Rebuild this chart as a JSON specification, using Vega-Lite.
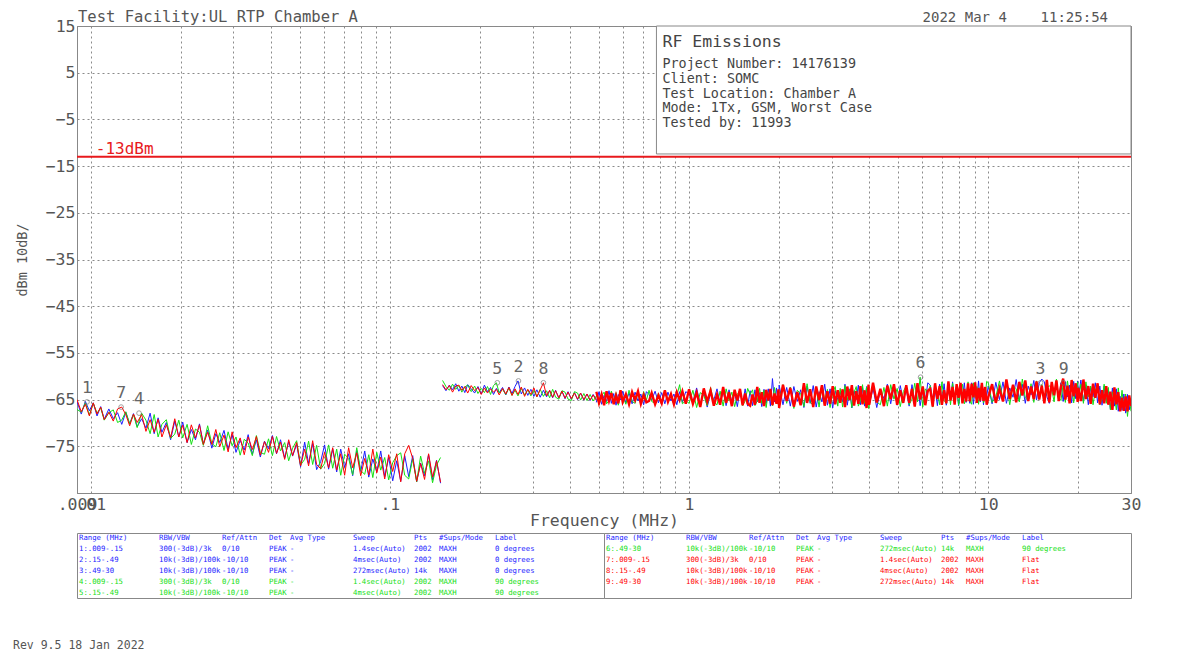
{
"$schema":"https://vega.github.io/schema/vega-lite/v6.json",
"background":"white",
"autosize":{"type":"pad"},
"padding":{"left":13,"top":9,"right":5,"bottom":5},
"config":{"view":{"stroke":"#888","strokeWidth":1}},
"title":{"text":"Rev 9.5 18 Jan 2022","orient":"bottom","anchor":"start","frame":"group","dx":-64,"offset":41,"font":"DejaVu Sans Mono","fontSize":11.5,"fontWeight":"normal","color":"#555"},
"datasets":{
"trace":[
{"s":1,"f":0.0090,"b":-65.4,"g":-67.1,"r":-65.0},
{"s":1,"f":0.0093,"b":-68.1,"g":-67.7,"r":-67.6},
{"s":1,"f":0.0096,"b":-65.4,"g":-65.7,"r":-66.0},
{"s":1,"f":0.0099,"b":-67.4,"g":-68.3,"r":-68.5},
{"s":1,"f":0.0102,"b":-65.7,"g":-65.8,"r":-65.7},
{"s":1,"f":0.0105,"b":-68.5,"g":-67.9,"r":-68.1},
{"s":1,"f":0.0108,"b":-66.5,"g":-66.8,"r":-66.6},
{"s":1,"f":0.0111,"b":-69.2,"g":-69.4,"r":-69.3},
{"s":1,"f":0.0115,"b":-67.0,"g":-67.8,"r":-67.7},
{"s":1,"f":0.0119,"b":-69.1,"g":-67.2,"r":-69.6},
{"s":1,"f":0.0123,"b":-67.8,"g":-69.9,"r":-67.0},
{"s":1,"f":0.0127,"b":-70.3,"g":-69.4,"r":-66.6},
{"s":1,"f":0.0131,"b":-67.7,"g":-67.6,"r":-68.2},
{"s":1,"f":0.0135,"b":-70.2,"g":-70.2,"r":-70.6},
{"s":1,"f":0.0139,"b":-68.0,"g":-68.2,"r":-68.1},
{"s":1,"f":0.0143,"b":-70.8,"g":-71.0,"r":-69.9},
{"s":1,"f":0.0148,"b":-69.1,"g":-67.9,"r":-68.2},
{"s":1,"f":0.0153,"b":-71.1,"g":-69.4,"r":-71.8},
{"s":1,"f":0.0158,"b":-67.9,"g":-72.3,"r":-69.3},
{"s":1,"f":0.0163,"b":-72.3,"g":-68.2,"r":-72.0},
{"s":1,"f":0.0168,"b":-68.9,"g":-73.0,"r":-69.2},
{"s":1,"f":0.0173,"b":-72.0,"g":-70.3,"r":-73.0},
{"s":1,"f":0.0179,"b":-69.9,"g":-69.3,"r":-70.4},
{"s":1,"f":0.0185,"b":-73.6,"g":-73.3,"r":-73.1},
{"s":1,"f":0.0191,"b":-69.6,"g":-72.4,"r":-69.1},
{"s":1,"f":0.0197,"b":-73.0,"g":-69.4,"r":-73.0},
{"s":1,"f":0.0203,"b":-69.8,"g":-73.2,"r":-70.5},
{"s":1,"f":0.0210,"b":-74.2,"g":-70.3,"r":-74.2},
{"s":1,"f":0.0217,"b":-71.4,"g":-74.6,"r":-70.4},
{"s":1,"f":0.0224,"b":-73.6,"g":-71.3,"r":-73.2},
{"s":1,"f":0.0231,"b":-70.2,"g":-72.0,"r":-70.4},
{"s":1,"f":0.0238,"b":-74.5,"g":-74.8,"r":-74.6},
{"s":1,"f":0.0246,"b":-71.5,"g":-70.6,"r":-72.0},
{"s":1,"f":0.0254,"b":-75.4,"g":-74.4,"r":-74.6},
{"s":1,"f":0.0262,"b":-72.3,"g":-75.1,"r":-71.4},
{"s":1,"f":0.0270,"b":-74.2,"g":-72.1,"r":-75.1},
{"s":1,"f":0.0279,"b":-71.6,"g":-75.9,"r":-72.6},
{"s":1,"f":0.0288,"b":-75.6,"g":-71.9,"r":-76.2},
{"s":1,"f":0.0297,"b":-72.5,"g":-74.9,"r":-71.9},
{"s":1,"f":0.0306,"b":-76.3,"g":-73.0,"r":-75.3},
{"s":1,"f":0.0316,"b":-73.7,"g":-76.9,"r":-73.2},
{"s":1,"f":0.0326,"b":-75.8,"g":-73.5,"r":-76.8},
{"s":1,"f":0.0336,"b":-72.5,"g":-74.3,"r":-73.0},
{"s":1,"f":0.0347,"b":-76.7,"g":-77.0,"r":-75.7},
{"s":1,"f":0.0358,"b":-73.6,"g":-72.7,"r":-72.9},
{"s":1,"f":0.0369,"b":-77.3,"g":-76.3,"r":-76.9},
{"s":1,"f":0.0381,"b":-73.9,"g":-76.7,"r":-74.0},
{"s":1,"f":0.0393,"b":-75.5,"g":-73.4,"r":-76.3},
{"s":1,"f":0.0405,"b":-72.7,"g":-77.0,"r":-72.9},
{"s":1,"f":0.0418,"b":-76.6,"g":-72.9,"r":-76.5},
{"s":1,"f":0.0431,"b":-73.6,"g":-76.0,"r":-74.1},
{"s":1,"f":0.0445,"b":-77.5,"g":-74.2,"r":-77.8},
{"s":1,"f":0.0459,"b":-74.0,"g":-78.1,"r":-73.6},
{"s":1,"f":0.0473,"b":-77.1,"g":-75.4,"r":-77.0},
{"s":1,"f":0.0488,"b":-74.6,"g":-73.8,"r":-74.2},
{"s":1,"f":0.0503,"b":-79.4,"g":-79.0,"r":-79.2},
{"s":1,"f":0.0519,"b":-74.1,"g":-77.8,"r":-75.6},
{"s":1,"f":0.0535,"b":-78.7,"g":-73.9,"r":-79.2},
{"s":1,"f":0.0552,"b":-74.4,"g":-78.9,"r":-73.8},
{"s":1,"f":0.0569,"b":-80.0,"g":-74.8,"r":-78.9},
{"s":1,"f":0.0587,"b":-78.3,"g":-79.9,"r":-79.8},
{"s":1,"f":0.0605,"b":-74.7,"g":-78.7,"r":-76.3},
{"s":1,"f":0.0624,"b":-79.9,"g":-74.7,"r":-79.6},
{"s":1,"f":0.0644,"b":-75.6,"g":-79.7,"r":-75.3},
{"s":1,"f":0.0664,"b":-80.5,"g":-75.6,"r":-80.1},
{"s":1,"f":0.0685,"b":-75.6,"g":-81.2,"r":-76.6},
{"s":1,"f":0.0706,"b":-79.5,"g":-76.7,"r":-81.2},
{"s":1,"f":0.0728,"b":-76.6,"g":-77.6,"r":-75.3},
{"s":1,"f":0.0751,"b":-81.3,"g":-81.1,"r":-79.6},
{"s":1,"f":0.0775,"b":-75.9,"g":-75.3,"r":-76.4},
{"s":1,"f":0.0799,"b":-80.4,"g":-80.2,"r":-81.3},
{"s":1,"f":0.0824,"b":-76.0,"g":-81.0,"r":-77.6},
{"s":1,"f":0.0850,"b":-81.6,"g":-76.8,"r":-81.1},
{"s":1,"f":0.0877,"b":-77.7,"g":-81.7,"r":-75.6},
{"s":1,"f":0.0904,"b":-80.5,"g":-76.3,"r":-80.7},
{"s":1,"f":0.0932,"b":-76.0,"g":-80.1,"r":-77.3},
{"s":1,"f":0.0961,"b":-81.5,"g":-77.4,"r":-82.0},
{"s":1,"f":0.0991,"b":-77.4,"g":-82.2,"r":-76.8},
{"s":1,"f":0.1022,"b":-82.4,"g":-78.5,"r":-80.4},
{"s":1,"f":0.1054,"b":-78.1,"g":-77.0,"r":-76.6},
{"s":1,"f":0.1087,"b":-82.5,"g":-76.4,"r":-82.6},
{"s":1,"f":0.1121,"b":-77.0,"g":-81.2,"r":-76.6},
{"s":1,"f":0.1156,"b":-81.5,"g":-82.0,"r":-74.8},
{"s":1,"f":0.1192,"b":-77.0,"g":-77.7,"r":-77.6},
{"s":1,"f":0.1229,"b":-82.6,"g":-82.6,"r":-82.5},
{"s":1,"f":0.1267,"b":-78.6,"g":-77.1,"r":-78.7},
{"s":1,"f":0.1306,"b":-81.3,"g":-80.8,"r":-82.1},
{"s":1,"f":0.1347,"b":-76.8,"g":-78.1,"r":-76.6},
{"s":1,"f":0.1389,"b":-82.2,"g":-82.8,"r":-81.6},
{"s":1,"f":0.1432,"b":-78.0,"g":-79.0,"r":-78.1},
{"s":1,"f":0.1477,"b":-82.9,"g":-77.4,"r":-82.7},
{"s":2,"f":0.150,"b":-62.0,"g":-60.9,"r":-61.8},
{"s":2,"f":0.154,"b":-63.1,"g":-62.2,"r":-62.9},
{"s":2,"f":0.158,"b":-61.9,"g":-63.0,"r":-62.0},
{"s":2,"f":0.162,"b":-62.9,"g":-61.7,"r":-63.4},
{"s":2,"f":0.166,"b":-61.6,"g":-62.8,"r":-62.1},
{"s":2,"f":0.170,"b":-63.2,"g":-62.0,"r":-61.9},
{"s":2,"f":0.174,"b":-62.1,"g":-63.4,"r":-63.0},
{"s":2,"f":0.178,"b":-63.5,"g":-62.3,"r":-62.2},
{"s":2,"f":0.182,"b":-61.8,"g":-61.9,"r":-63.6},
{"s":2,"f":0.187,"b":-62.7,"g":-63.3,"r":-62.0},
{"s":2,"f":0.192,"b":-63.6,"g":-62.1,"r":-63.1},
{"s":2,"f":0.197,"b":-62.2,"g":-63.7,"r":-62.4},
{"s":2,"f":0.202,"b":-63.8,"g":-62.6,"r":-63.9},
{"s":2,"f":0.207,"b":-61.9,"g":-63.5,"r":-62.5},
{"s":2,"f":0.212,"b":-63.3,"g":-62.2,"r":-63.6},
{"s":2,"f":0.217,"b":-62.4,"g":-63.9,"r":-62.7},
{"s":2,"f":0.222,"b":-63.9,"g":-62.0,"r":-63.4},
{"s":2,"f":0.227,"b":-62.6,"g":-61.4,"r":-62.8},
{"s":2,"f":0.232,"b":-63.5,"g":-63.6,"r":-64.0},
{"s":2,"f":0.238,"b":-62.4,"g":-62.8,"r":-62.6},
{"s":2,"f":0.244,"b":-64.0,"g":-63.9,"r":-63.8},
{"s":2,"f":0.250,"b":-62.3,"g":-62.5,"r":-62.4},
{"s":2,"f":0.256,"b":-63.7,"g":-64.1,"r":-64.1},
{"s":2,"f":0.262,"b":-62.2,"g":-63.0,"r":-62.7},
{"s":2,"f":0.268,"b":-61.0,"g":-64.2,"r":-63.9},
{"s":2,"f":0.275,"b":-63.8,"g":-62.6,"r":-62.3},
{"s":2,"f":0.282,"b":-62.5,"g":-64.0,"r":-64.3},
{"s":2,"f":0.289,"b":-64.1,"g":-62.9,"r":-62.8},
{"s":2,"f":0.296,"b":-62.8,"g":-64.2,"r":-63.9},
{"s":2,"f":0.303,"b":-64.3,"g":-63.0,"r":-62.5},
{"s":2,"f":0.310,"b":-62.9,"g":-64.4,"r":-64.4},
{"s":2,"f":0.318,"b":-64.5,"g":-62.8,"r":-62.9},
{"s":2,"f":0.326,"b":-63.0,"g":-64.3,"r":-61.4},
{"s":2,"f":0.334,"b":-64.4,"g":-63.1,"r":-64.2},
{"s":2,"f":0.342,"b":-63.1,"g":-64.6,"r":-63.0},
{"s":2,"f":0.350,"b":-64.6,"g":-62.8,"r":-64.5},
{"s":2,"f":0.358,"b":-63.0,"g":-64.5,"r":-63.1},
{"s":2,"f":0.367,"b":-64.7,"g":-64.9,"r":-64.6},
{"s":2,"f":0.376,"b":-63.2,"g":-63.1,"r":-63.2},
{"s":2,"f":0.385,"b":-64.8,"g":-63.4,"r":-64.7},
{"s":2,"f":0.394,"b":-63.3,"g":-64.9,"r":-63.4},
{"s":2,"f":0.404,"b":-64.9,"g":-65.2,"r":-64.8},
{"s":2,"f":0.414,"b":-63.5,"g":-63.3,"r":-63.6},
{"s":2,"f":0.424,"b":-65.0,"g":-63.6,"r":-64.9},
{"s":2,"f":0.434,"b":-63.6,"g":-65.1,"r":-63.6},
{"s":2,"f":0.445,"b":-65.1,"g":-63.7,"r":-65.0},
{"s":2,"f":0.456,"b":-63.8,"g":-65.2,"r":-63.8},
{"s":2,"f":0.467,"b":-65.2,"g":-63.9,"r":-65.1},
{"s":2,"f":0.478,"b":-63.9,"g":-65.3,"r":-64.0},
{"s":2,"f":0.490,"b":-65.0,"g":-64.2,"r":-65.2},
{"s":3,"f":0.49,"b":-65.6,"g":-63.8,"r":-63.3},
{"s":3,"f":0.50,"b":-63.3,"g":-66.1,"r":-65.7},
{"s":3,"f":0.51,"b":-66.0,"g":-64.2,"r":-63.9},
{"s":3,"f":0.52,"b":-64.1,"g":-63.4,"r":-66.2},
{"s":3,"f":0.53,"b":-65.4,"g":-65.9,"r":-63.2},
{"s":3,"f":0.54,"b":-63.1,"g":-65.2,"r":-65.3},
{"s":3,"f":0.55,"b":-65.8,"g":-63.2,"r":-63.6},
{"s":3,"f":0.56,"b":-63.7,"g":-65.6,"r":-66.0},
{"s":3,"f":0.57,"b":-66.2,"g":-63.5,"r":-64.1},
{"s":3,"f":0.58,"b":-63.9,"g":-66.2,"r":-65.8},
{"s":3,"f":0.59,"b":-65.1,"g":-63.9,"r":-63.0},
{"s":3,"f":0.60,"b":-63.2,"g":-64.3,"r":-65.5},
{"s":3,"f":0.615,"b":-65.7,"g":-66.0,"r":-63.8},
{"s":3,"f":0.63,"b":-63.5,"g":-63.0,"r":-66.0},
{"s":3,"f":0.645,"b":-65.9,"g":-65.4,"r":-63.4},
{"s":3,"f":0.66,"b":-63.4,"g":-65.8,"r":-65.1},
{"s":3,"f":0.675,"b":-65.3,"g":-63.6,"r":-63.2},
{"s":3,"f":0.69,"b":-63.8,"g":-66.0,"r":-65.9},
{"s":3,"f":0.705,"b":-66.1,"g":-63.3,"r":-64.0},
{"s":3,"f":0.72,"b":-63.3,"g":-65.1,"r":-65.6},
{"s":3,"f":0.735,"b":-63.9,"g":-63.0,"r":-65.3},
{"s":3,"f":0.75,"b":-65.1,"g":-65.4,"r":-63.6},
{"s":3,"f":0.77,"b":-63.2,"g":-65.8,"r":-66.0},
{"s":3,"f":0.79,"b":-65.7,"g":-63.6,"r":-64.1},
{"s":3,"f":0.81,"b":-63.5,"g":-66.0,"r":-65.8},
{"s":3,"f":0.83,"b":-65.9,"g":-63.3,"r":-63.0},
{"s":3,"f":0.85,"b":-63.4,"g":-65.1,"r":-65.5},
{"s":3,"f":0.87,"b":-65.3,"g":-63.8,"r":-63.8},
{"s":3,"f":0.89,"b":-63.8,"g":-66.1,"r":-66.0},
{"s":3,"f":0.91,"b":-66.1,"g":-64.2,"r":-63.4},
{"s":3,"f":0.93,"b":-63.3,"g":-61.8,"r":-65.1},
{"s":3,"f":0.95,"b":-65.6,"g":-65.9,"r":-63.2},
{"s":3,"f":0.975,"b":-63.3,"g":-65.2,"r":-65.9},
{"s":3,"f":1.00,"b":-63.8,"g":-65.8,"r":-62.8},
{"s":3,"f":1.03,"b":-65.5,"g":-63.0,"r":-65.9},
{"s":3,"f":1.06,"b":-62.5,"g":-66.7,"r":-63.5},
{"s":3,"f":1.09,"b":-66.1,"g":-63.5,"r":-66.6},
{"s":3,"f":1.12,"b":-63.3,"g":-64.1,"r":-62.6},
{"s":3,"f":1.15,"b":-66.6,"g":-66.3,"r":-65.4},
{"s":3,"f":1.18,"b":-63.6,"g":-62.4,"r":-63.1},
{"s":3,"f":1.21,"b":-65.1,"g":-65.6,"r":-66.3},
{"s":3,"f":1.24,"b":-62.7,"g":-66.1,"r":-63.9},
{"s":3,"f":1.27,"b":-66.0,"g":-63.2,"r":-66.1},
{"s":3,"f":1.30,"b":-63.1,"g":-66.4,"r":-62.3},
{"s":3,"f":1.33,"b":-66.3,"g":-62.7,"r":-65.7},
{"s":3,"f":1.36,"b":-62.9,"g":-65.2,"r":-63.4},
{"s":3,"f":1.39,"b":-65.5,"g":-63.4,"r":-66.4},
{"s":3,"f":1.42,"b":-63.5,"g":-66.5,"r":-62.9},
{"s":3,"f":1.45,"b":-66.5,"g":-63.9,"r":-65.2},
{"s":3,"f":1.48,"b":-62.8,"g":-62.9,"r":-62.7},
{"s":3,"f":1.51,"b":-65.8,"g":-66.3,"r":-66.2},
{"s":3,"f":1.54,"b":-62.7,"g":-65.3,"r":-63.7},
{"s":3,"f":1.57,"b":-66.4,"g":-62.6,"r":-65.9},
{"s":3,"f":1.60,"b":-63.1,"g":-63.9,"r":-66.3},
{"s":3,"f":1.63,"b":-66.3,"g":-62.9,"r":-63.9},
{"s":3,"f":1.66,"b":-62.9,"g":-66.3,"r":-66.1},
{"s":3,"f":1.69,"b":-65.5,"g":-65.3,"r":-62.3},
{"s":3,"f":1.72,"b":-63.5,"g":-62.6,"r":-65.7},
{"s":3,"f":1.75,"b":-66.5,"g":-65.8,"r":-63.4},
{"s":3,"f":1.78,"b":-62.8,"g":-63.0,"r":-66.4},
{"s":3,"f":1.81,"b":-65.8,"g":-66.7,"r":-62.9},
{"s":3,"f":1.84,"b":-62.7,"g":-63.5,"r":-65.2},
{"s":3,"f":1.87,"b":-66.4,"g":-64.1,"r":-62.7},
{"s":3,"f":1.90,"b":-60.5,"g":-66.3,"r":-66.2},
{"s":3,"f":1.93,"b":-65.5,"g":-62.4,"r":-63.7},
{"s":3,"f":1.96,"b":-62.5,"g":-65.6,"r":-65.9},
{"s":3,"f":1.99,"b":-66.1,"g":-66.1,"r":-62.8},
{"s":3,"f":2.00,"b":-61.9,"g":-65.2,"r":-66.8},
{"s":3,"f":2.06,"b":-66.1,"g":-61.8,"r":-61.8},
{"s":3,"f":2.12,"b":-62.4,"g":-65.8,"r":-65.3},
{"s":3,"f":2.18,"b":-66.4,"g":-62.3,"r":-62.5},
{"s":3,"f":2.24,"b":-62.2,"g":-66.9,"r":-66.5},
{"s":3,"f":2.30,"b":-65.4,"g":-63.0,"r":-63.4},
{"s":3,"f":2.36,"b":-62.9,"g":-63.7,"r":-66.2},
{"s":3,"f":2.42,"b":-66.7,"g":-66.5,"r":-61.5},
{"s":3,"f":2.48,"b":-62.1,"g":-61.6,"r":-65.7},
{"s":3,"f":2.54,"b":-65.8,"g":-65.6,"r":-62.8},
{"s":3,"f":2.60,"b":-62.0,"g":-66.2,"r":-66.6},
{"s":3,"f":2.66,"b":-66.6,"g":-62.6,"r":-62.2},
{"s":3,"f":2.72,"b":-63.3,"g":-66.6,"r":-65.1},
{"s":3,"f":2.78,"b":-65.5,"g":-62.0,"r":-61.9},
{"s":3,"f":2.84,"b":-61.7,"g":-65.1,"r":-66.3},
{"s":3,"f":2.90,"b":-66.2,"g":-62.8,"r":-63.2},
{"s":3,"f":2.96,"b":-62.7,"g":-66.7,"r":-65.9},
{"s":3,"f":3.02,"b":-66.8,"g":-63.5,"r":-62.1},
{"s":3,"f":3.08,"b":-63.1,"g":-62.2,"r":-66.0},
{"s":3,"f":3.14,"b":-65.0,"g":-66.4,"r":-63.0},
{"s":3,"f":3.20,"b":-63.3,"g":-62.6,"r":-65.7},
{"s":3,"f":3.26,"b":-65.5,"g":-66.6,"r":-62.8},
{"s":3,"f":3.32,"b":-61.7,"g":-62.0,"r":-66.6},
{"s":3,"f":3.38,"b":-66.2,"g":-65.1,"r":-62.2},
{"s":3,"f":3.44,"b":-62.7,"g":-62.8,"r":-65.1},
{"s":3,"f":3.50,"b":-66.8,"g":-66.7,"r":-61.9},
{"s":3,"f":3.56,"b":-63.1,"g":-63.5,"r":-66.3},
{"s":3,"f":3.62,"b":-65.0,"g":-62.2,"r":-63.2},
{"s":3,"f":3.68,"b":-61.9,"g":-66.4,"r":-65.9},
{"s":3,"f":3.74,"b":-66.1,"g":-65.2,"r":-62.1},
{"s":3,"f":3.80,"b":-62.4,"g":-61.8,"r":-66.0},
{"s":3,"f":3.86,"b":-66.4,"g":-65.8,"r":-63.0},
{"s":3,"f":3.92,"b":-62.2,"g":-62.3,"r":-66.8},
{"s":3,"f":3.98,"b":-65.4,"g":-66.9,"r":-61.8},
{"s":3,"f":4.00,"b":-66.1,"g":-66.4,"r":-66.1},
{"s":3,"f":4.12,"b":-62.6,"g":-61.5,"r":-61.4},
{"s":3,"f":4.24,"b":-66.7,"g":-65.5,"r":-65.6},
{"s":3,"f":4.36,"b":-63.0,"g":-66.1,"r":-62.7},
{"s":3,"f":4.48,"b":-64.8,"g":-62.4,"r":-66.4},
{"s":3,"f":4.60,"b":-61.7,"g":-66.4,"r":-62.0},
{"s":3,"f":4.72,"b":-65.9,"g":-61.8,"r":-64.9},
{"s":3,"f":4.84,"b":-62.2,"g":-64.9,"r":-61.7},
{"s":3,"f":4.96,"b":-66.2,"g":-62.6,"r":-66.1},
{"s":3,"f":5.08,"b":-62.0,"g":-66.5,"r":-63.0},
{"s":3,"f":5.20,"b":-65.2,"g":-63.3,"r":-65.7},
{"s":3,"f":5.32,"b":-62.7,"g":-62.0,"r":-61.9},
{"s":3,"f":5.44,"b":-66.4,"g":-66.1,"r":-65.7},
{"s":3,"f":5.56,"b":-61.8,"g":-64.9,"r":-62.7},
{"s":3,"f":5.68,"b":-65.5,"g":-61.5,"r":-66.5},
{"s":3,"f":5.80,"b":-61.7,"g":-65.5,"r":-61.5},
{"s":3,"f":5.92,"b":-66.3,"g":-60.2,"r":-65.0},
{"s":3,"f":6.04,"b":-63.0,"g":-66.6,"r":-62.2},
{"s":3,"f":6.16,"b":-65.2,"g":-62.7,"r":-66.2},
{"s":3,"f":6.28,"b":-61.4,"g":-63.4,"r":-63.1},
{"s":3,"f":6.40,"b":-61.9,"g":-62.0,"r":-62.7},
{"s":3,"f":6.52,"b":-65.1,"g":-66.6,"r":-66.5},
{"s":3,"f":6.64,"b":-62.6,"g":-62.7,"r":-61.5},
{"s":3,"f":6.76,"b":-66.3,"g":-63.3,"r":-64.9},
{"s":3,"f":6.88,"b":-61.7,"g":-66.1,"r":-62.1},
{"s":3,"f":7.00,"b":-65.4,"g":-61.2,"r":-66.1},
{"s":3,"f":7.12,"b":-61.6,"g":-65.2,"r":-63.0},
{"s":3,"f":7.24,"b":-66.2,"g":-65.8,"r":-65.8},
{"s":3,"f":7.36,"b":-62.9,"g":-62.2,"r":-61.1},
{"s":3,"f":7.48,"b":-65.0,"g":-66.1,"r":-65.2},
{"s":3,"f":7.60,"b":-61.2,"g":-61.5,"r":-62.3},
{"s":3,"f":7.72,"b":-65.7,"g":-64.6,"r":-66.1},
{"s":3,"f":7.84,"b":-62.2,"g":-62.3,"r":-61.7},
{"s":3,"f":7.96,"b":-66.3,"g":-66.2,"r":-64.6},
{"s":3,"f":8.08,"b":-62.6,"g":-63.0,"r":-61.4},
{"s":3,"f":8.20,"b":-64.5,"g":-61.7,"r":-65.8},
{"s":3,"f":8.32,"b":-61.4,"g":-65.9,"r":-62.7},
{"s":3,"f":8.44,"b":-65.6,"g":-64.7,"r":-65.4},
{"s":3,"f":8.56,"b":-61.8,"g":-61.2,"r":-61.5},
{"s":3,"f":8.68,"b":-65.8,"g":-65.2,"r":-65.4},
{"s":3,"f":8.80,"b":-61.4,"g":-66.0,"r":-61.6},
{"s":3,"f":8.92,"b":-66.0,"g":-61.4,"r":-64.5},
{"s":3,"f":9.04,"b":-62.7,"g":-64.5,"r":-61.3},
{"s":3,"f":9.16,"b":-64.9,"g":-62.2,"r":-65.7},
{"s":3,"f":9.28,"b":-61.0,"g":-66.0,"r":-62.5},
{"s":3,"f":9.40,"b":-65.5,"g":-62.8,"r":-65.2},
{"s":3,"f":9.52,"b":-62.0,"g":-61.5,"r":-61.4},
{"s":3,"f":9.64,"b":-66.1,"g":-65.7,"r":-65.3},
{"s":3,"f":9.76,"b":-62.4,"g":-64.5,"r":-62.3},
{"s":3,"f":9.88,"b":-64.3,"g":-61.1,"r":-66.1},
{"s":3,"f":10.0,"b":-62.1,"g":-61.4,"r":-64.5},
{"s":3,"f":10.3,"b":-65.9,"g":-65.6,"r":-61.7},
{"s":3,"f":10.6,"b":-61.3,"g":-64.4,"r":-65.7},
{"s":3,"f":10.9,"b":-65.0,"g":-61.0,"r":-62.6},
{"s":3,"f":11.2,"b":-61.2,"g":-65.0,"r":-65.4},
{"s":3,"f":11.5,"b":-65.8,"g":-61.5,"r":-60.7},
{"s":3,"f":11.8,"b":-62.5,"g":-66.1,"r":-64.9},
{"s":3,"f":12.1,"b":-64.5,"g":-62.0,"r":-61.8},
{"s":3,"f":12.4,"b":-60.7,"g":-62.7,"r":-65.6},
{"s":3,"f":12.7,"b":-65.2,"g":-65.5,"r":-61.2},
{"s":3,"f":13.0,"b":-61.7,"g":-60.6,"r":-64.1},
{"s":3,"f":13.3,"b":-65.8,"g":-64.6,"r":-60.9},
{"s":3,"f":13.6,"b":-62.1,"g":-65.2,"r":-65.3},
{"s":3,"f":13.9,"b":-64.0,"g":-61.6,"r":-62.2},
{"s":3,"f":14.2,"b":-60.9,"g":-65.6,"r":-64.9},
{"s":3,"f":14.5,"b":-65.1,"g":-61.0,"r":-61.1},
{"s":3,"f":14.8,"b":-61.4,"g":-64.1,"r":-65.0},
{"s":3,"f":15.1,"b":-60.6,"g":-61.8,"r":-62.0},
{"s":3,"f":15.4,"b":-61.2,"g":-65.7,"r":-65.8},
{"s":3,"f":15.7,"b":-64.4,"g":-62.5,"r":-60.8},
{"s":3,"f":16.0,"b":-65.8,"g":-62.0,"r":-65.6},
{"s":3,"f":16.3,"b":-62.1,"g":-62.7,"r":-61.2},
{"s":3,"f":16.6,"b":-64.0,"g":-65.5,"r":-64.1},
{"s":3,"f":16.9,"b":-60.9,"g":-60.6,"r":-60.9},
{"s":3,"f":17.2,"b":-65.1,"g":-64.6,"r":-65.3},
{"s":3,"f":17.5,"b":-61.4,"g":-65.2,"r":-62.2},
{"s":3,"f":17.8,"b":-65.4,"g":-61.6,"r":-60.5},
{"s":3,"f":18.1,"b":-61.2,"g":-65.6,"r":-65.0},
{"s":3,"f":18.4,"b":-64.4,"g":-61.0,"r":-62.0},
{"s":3,"f":18.7,"b":-61.9,"g":-64.1,"r":-65.8},
{"s":3,"f":19.0,"b":-65.7,"g":-61.8,"r":-60.8},
{"s":3,"f":19.3,"b":-61.1,"g":-65.7,"r":-64.3},
{"s":3,"f":19.6,"b":-64.8,"g":-62.5,"r":-61.5},
{"s":3,"f":19.9,"b":-61.0,"g":-61.2,"r":-65.5},
{"s":3,"f":20.0,"b":-64.6,"g":-65.3,"r":-62.5},
{"s":3,"f":20.4,"b":-60.8,"g":-61.7,"r":-65.3},
{"s":3,"f":20.8,"b":-65.4,"g":-65.8,"r":-60.7},
{"s":3,"f":21.2,"b":-61.9,"g":-61.2,"r":-64.9},
{"s":3,"f":21.6,"b":-66.1,"g":-64.4,"r":-62.1},
{"s":3,"f":22.0,"b":-62.4,"g":-62.1,"r":-65.9},
{"s":3,"f":22.4,"b":-64.4,"g":-66.1,"r":-61.6},
{"s":3,"f":22.8,"b":-61.4,"g":-63.0,"r":-64.6},
{"s":3,"f":23.2,"b":-65.7,"g":-61.8,"r":-61.5},
{"s":3,"f":23.6,"b":-62.1,"g":-66.1,"r":-66.0},
{"s":3,"f":24.0,"b":-66.2,"g":-65.0,"r":-63.0},
{"s":3,"f":24.4,"b":-62.1,"g":-61.7,"r":-65.8},
{"s":3,"f":24.8,"b":-65.4,"g":-65.8,"r":-62.1},
{"s":3,"f":25.2,"b":-63.0,"g":-62.4,"r":-66.1},
{"s":3,"f":25.6,"b":-67.0,"g":-67.2,"r":-63.3},
{"s":3,"f":26.0,"b":-62.5,"g":-63.4,"r":-67.2},
{"s":3,"f":26.4,"b":-66.4,"g":-64.3,"r":-62.4},
{"s":3,"f":26.8,"b":-62.7,"g":-67.2,"r":-66.0},
{"s":3,"f":27.2,"b":-67.5,"g":-62.5,"r":-63.4},
{"s":3,"f":27.6,"b":-64.3,"g":-66.6,"r":-67.5},
{"s":3,"f":28.0,"b":-67.3,"g":-63.0,"r":-64.6},
{"s":3,"f":28.4,"b":-63.8,"g":-67.2,"r":-67.4},
{"s":3,"f":28.8,"b":-67.9,"g":-63.8,"r":-64.3},
{"s":3,"f":29.2,"b":-63.9,"g":-68.6,"r":-67.5},
{"s":3,"f":29.6,"b":-67.2,"g":-64.8,"r":-64.1},
{"s":3,"f":30.0,"b":-64.8,"g":-67.5,"r":-66.4}
],
"mk":[
{"n":"1","f":0.00972,"v":-65.5},
{"n":"7","f":0.01264,"v":-66.6},
{"n":"4","f":0.01451,"v":-67.9},
{"n":"5","f":0.2286,"v":-61.4},
{"n":"2","f":0.269,"v":-61.0},
{"n":"8","f":0.326,"v":-61.4},
{"n":"6","f":5.94,"v":-60.2},
{"n":"3","f":14.96,"v":-61.4},
{"n":"9","f":17.86,"v":-61.4}
],
"cols":[
{"col":"c0","i":0},{"col":"c1","i":1},{"col":"c2","i":2},{"col":"c3","i":3},{"col":"c4","i":4},{"col":"c5","i":5},{"col":"c6","i":6},{"col":"c7","i":7},{"col":"c8","i":8}
],
"tbl":[
{"h":"L","r":0,"k":"h","c0":"Range (MHz)","c1":"RBW/VBW","c2":"Ref/Attn","c3":"Det","c4":"Avg Type","c5":"Sweep","c6":"Pts","c7":"#Sups/Mode","c8":"Label"},
{"h":"L","r":1,"k":"b","c0":"1:.009-.15","c1":"300(-3dB)/3k","c2":"0/10","c3":"PEAK","c4":"-","c5":"1.4sec(Auto)","c6":"2002","c7":"MAXH","c8":"0 degrees"},
{"h":"L","r":2,"k":"b","c0":"2:.15-.49","c1":"10k(-3dB)/100k","c2":"-10/10","c3":"PEAK","c4":"-","c5":"4msec(Auto)","c6":"2002","c7":"MAXH","c8":"0 degrees"},
{"h":"L","r":3,"k":"b","c0":"3:.49-30","c1":"10k(-3dB)/100k","c2":"-10/10","c3":"PEAK","c4":"-","c5":"272msec(Auto)","c6":"14k","c7":"MAXH","c8":"0 degrees"},
{"h":"L","r":4,"k":"g","c0":"4:.009-.15","c1":"300(-3dB)/3k","c2":"0/10","c3":"PEAK","c4":"-","c5":"1.4sec(Auto)","c6":"2002","c7":"MAXH","c8":"90 degrees"},
{"h":"L","r":5,"k":"g","c0":"5:.15-.49","c1":"10k(-3dB)/100k","c2":"-10/10","c3":"PEAK","c4":"-","c5":"4msec(Auto)","c6":"2002","c7":"MAXH","c8":"90 degrees"},
{"h":"R","r":0,"k":"h","c0":"Range (MHz)","c1":"RBW/VBW","c2":"Ref/Attn","c3":"Det","c4":"Avg Type","c5":"Sweep","c6":"Pts","c7":"#Sups/Mode","c8":"Label"},
{"h":"R","r":1,"k":"g","c0":"6:.49-30","c1":"10k(-3dB)/100k","c2":"-10/10","c3":"PEAK","c4":"-","c5":"272msec(Auto)","c6":"14k","c7":"MAXH","c8":"90 degrees"},
{"h":"R","r":2,"k":"r","c0":"7:.009-.15","c1":"300(-3dB)/3k","c2":"0/10","c3":"PEAK","c4":"-","c5":"1.4sec(Auto)","c6":"2002","c7":"MAXH","c8":"Flat"},
{"h":"R","r":3,"k":"r","c0":"8:.15-.49","c1":"10k(-3dB)/100k","c2":"-10/10","c3":"PEAK","c4":"-","c5":"4msec(Auto)","c6":"2002","c7":"MAXH","c8":"Flat"},
{"h":"R","r":4,"k":"r","c0":"9:.49-30","c1":"10k(-3dB)/100k","c2":"-10/10","c3":"PEAK","c4":"-","c5":"272msec(Auto)","c6":"14k","c7":"MAXH","c8":"Flat"}
]
},
"bounds":"flush",
"spacing":40,
"vconcat":[
{
"width":1054,"height":467,
"layer":[
{"data":{"name":"trace"},
 "transform":[{"fold":["b","g","r"],"as":["tr","v"]}],
 "mark":{"type":"line","clip":true},
 "encoding":{
  "x":{"field":"f","type":"quantitative","scale":{"type":"log","domain":[0.009,30],"nice":false},
   "axis":{"values":[0.009,0.01,0.02,0.03,0.04,0.05,0.06,0.07,0.08,0.09,0.1,0.2,0.3,0.4,0.5,0.6,0.7,0.8,0.9,1,2,3,4,5,6,7,8,9,10,20,30],
    "labelExpr":"(datum.value == 0.009 || datum.value == 0.01 || datum.value == 0.1 || datum.value == 1 || datum.value == 10 || datum.value == 30) ? replace(toString(datum.value), '0.', '.') : ''",
    "labelOverlap":false,"labelFlush":false,"labelBound":false,
    "grid":true,"gridColor":"#8a8a8a","gridDash":[2,3],"gridWidth":1,"ticks":false,"domainColor":"#888",
    "labelFont":"DejaVu Sans Mono","labelFontSize":16.5,"labelColor":"#555","labelPadding":3,
    "title":"Frequency (MHz)","titleFont":"DejaVu Sans Mono","titleFontSize":16.5,"titleFontWeight":"normal","titleColor":"#555","titlePadding":0}},
  "y":{"field":"v","type":"quantitative","scale":{"domain":[-85,15],"nice":false,"zero":false},
   "axis":{"values":[15,5,-5,-15,-25,-35,-45,-55,-65,-75],
    "grid":true,"gridColor":"#8a8a8a","gridDash":[2,3],"gridWidth":1,"ticks":false,"domainColor":"#888",
    "labelFont":"DejaVu Sans Mono","labelFontSize":16.5,"labelColor":"#555","labelPadding":2,
    "title":"dBm 10dB/","titleFont":"DejaVu Sans Mono","titleFontSize":13.5,"titleFontWeight":"normal","titleColor":"#555","titlePadding":16}},
  "color":{"field":"tr","type":"nominal","scale":{"domain":["b","g","r"],"range":["#1c1cff","#14e014","#ff0000"]},"legend":null},
  "strokeWidth":{"condition":{"test":"datum.tr == 'r' && datum.s == 3","value":2.4},"value":1},
  "detail":{"field":"s","type":"nominal"}
 }},
{"data":{"values":[{}]},"mark":{"type":"rule","color":"#e8191c","strokeWidth":2},"encoding":{"y":{"datum":-13}}},
{"data":{"values":[{}]},"mark":{"type":"text","align":"left","baseline":"alphabetic","dy":-3,"color":"#e8191c","font":"DejaVu Sans Mono","fontSize":16},
 "encoding":{"x":{"datum":0.0104},"y":{"datum":-13},"text":{"value":"-13dBm"}}},
{"data":{"values":[{}]},"mark":{"type":"rect","fill":"white","stroke":"#888","strokeWidth":1},
 "encoding":{"x":{"datum":0.778},"x2":{"datum":30},"y":{"datum":15},"y2":{"datum":-12.4}}},
{"data":{"values":[{}]},"mark":{"type":"text","align":"left","baseline":"alphabetic","dy":21,"color":"#444","font":"DejaVu Sans Mono","fontSize":16.5},
 "encoding":{"x":{"datum":0.815},"y":{"datum":15},"text":{"value":"RF Emissions"}}},
{"data":{"values":[{}]},"mark":{"type":"text","align":"left","baseline":"alphabetic","dy":42,"lineHeight":14.8,"color":"#444","font":"DejaVu Sans Mono","fontSize":13.4},
 "encoding":{"x":{"datum":0.815},"y":{"datum":15},"text":{"value":["Project Number: 14176139","Client: SOMC","Test Location: Chamber A","Mode: 1Tx, GSM, Worst Case","Tested by: 11993"]}}},
{"data":{"values":[{}]},"mark":{"type":"text","align":"left","baseline":"alphabetic","dx":1,"dy":-4,"color":"#555","font":"DejaVu Sans Mono","fontSize":15.5},
 "encoding":{"x":{"datum":0.009},"y":{"datum":15},"text":{"value":"Test Facility:UL RTP Chamber A"}}},
{"data":{"values":[{}]},"mark":{"type":"text","align":"right","baseline":"alphabetic","dx":-23,"dy":-4,"color":"#555","font":"DejaVu Sans Mono","fontSize":14},
 "encoding":{"x":{"datum":30},"y":{"datum":15},"text":{"value":"2022 Mar 4\u00a0\u00a0\u00a0\u00a011:25:54"}}},
{"data":{"name":"mk"},
 "mark":{"type":"point","shape":"circle","size":22,"filled":false,"stroke":"#777","strokeWidth":1},
 "encoding":{"x":{"field":"f","type":"quantitative"},"y":{"field":"v","type":"quantitative"}}},
{"data":{"name":"mk"},
 "mark":{"type":"text","align":"center","baseline":"middle","dy":-14,"color":"#666","font":"DejaVu Sans Mono","fontSize":16.5},
 "encoding":{"x":{"field":"f","type":"quantitative"},"y":{"field":"v","type":"quantitative"},"text":{"field":"n"}}}
]
},
{
"hconcat":[
{"width":527,"height":65,
 "data":{"name":"tbl"},
 "transform":[{"filter":"datum.h == 'L'"},{"fold":["c0","c1","c2","c3","c4","c5","c6","c7","c8"],"as":["col","txt"]},{"lookup":"col","from":{"data":{"name":"cols"},"key":"col","fields":["i"]}}],
 "mark":{"type":"text","align":"left","baseline":"middle","font":"DejaVu Sans Mono","fontSize":7.3},
 "encoding":{
  "x":{"field":"i","type":"quantitative","scale":{"domain":[0,1,2,3,4,5,6,7,8],"range":[2,82,145,192,213,276,337,362,418],"nice":false,"zero":false},"axis":null},
  "y":{"field":"r","type":"quantitative","scale":{"domain":[0,5],"range":[5,60],"nice":false,"zero":false},"axis":null},
  "color":{"field":"k","type":"nominal","scale":{"domain":["h","b","g","r"],"range":["#333333","#3434ff","#29d829","#ff3a3a"]},"legend":null},
  "text":{"field":"txt"}
 }},
{"width":527,"height":65,
 "data":{"name":"tbl"},
 "transform":[{"filter":"datum.h == 'R'"},{"fold":["c0","c1","c2","c3","c4","c5","c6","c7","c8"],"as":["col","txt"]},{"lookup":"col","from":{"data":{"name":"cols"},"key":"col","fields":["i"]}}],
 "mark":{"type":"text","align":"left","baseline":"middle","font":"DejaVu Sans Mono","fontSize":7.3},
 "encoding":{
  "x":{"field":"i","type":"quantitative","scale":{"domain":[0,1,2,3,4,5,6,7,8],"range":[2,82,145,192,213,276,337,362,418],"nice":false,"zero":false},"axis":null},
  "y":{"field":"r","type":"quantitative","scale":{"domain":[0,5],"range":[5,60],"nice":false,"zero":false},"axis":null},
  "color":{"field":"k","type":"nominal","scale":{"domain":["h","b","g","r"],"range":["#333333","#3434ff","#29d829","#ff3a3a"]},"legend":null},
  "text":{"field":"txt"}
 }}
],
"spacing":0,
"bounds":"flush"
}
]
}
